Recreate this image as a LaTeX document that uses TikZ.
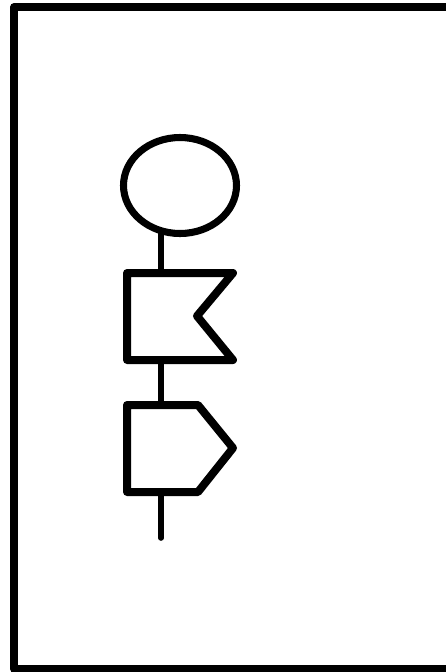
\documentclass[tikz,border=0pt]{standalone}
\begin{document}
\begin{tikzpicture}[x=0.75pt,y=-0.75pt,
  shapeline/.style={draw=black,line width=6pt,line join=round,fill=white},
  stemline/.style={draw=black,line width=4.2pt,line cap=round},
  frameline/.style={draw=black,line width=5.5pt,line join=round}]
\clip (0,0) rectangle (446,672);
\fill[white] (0,0) rectangle (446,672);
\draw[frameline] (14,7) rectangle (455,669);
% connectors
\coordinate (e) at (161,228);
\coordinate (fT) at (161,273);
\coordinate (fB) at (161,360);
\coordinate (pT) at (161,405);
\coordinate (pB) at (161,492);
\coordinate (endp) at (161,538);
\draw[stemline] (e) -- (fT);
\draw[stemline] (fB) -- (pT);
\draw[stemline] (pB) -- (endp);
% ellipse
\draw[shapeline,line width=5.3pt] (180,185.5) ellipse [x radius=56.5, y radius=48];
% flag
\draw[shapeline] (127,273) -- (233,273) -- (197,316) -- (233,360) -- (127,360) -- cycle;
% pentagon
\draw[shapeline] (127,405) -- (198,405) -- (233,448) -- (198,492) -- (127,492) -- cycle;
\end{tikzpicture}
\end{document}
